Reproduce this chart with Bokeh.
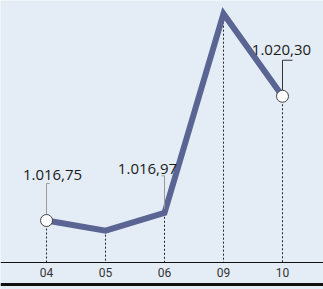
from bokeh.plotting import figure
from bokeh.models import FixedTicker, Span, Range1d
from bokeh.core.properties import value
from bokeh.embed import file_html
from bokeh.resources import INLINE

# ---- data ----
months = ["04", "05", "06", "09", "10"]
pressure = [1016.75, 1016.46, 1016.97, 1022.66, 1020.30]
labels = ["1.016,75", None, "1.016,97", None, "1.020,30"]

# ---- layout / style ----
W, H = 323, 289
BG = "#e4edf6"
LINE = "#5a6593"
y_top, y_bot = 1023.036, 1014.779
baseline = 1015.55
bottom_rule = 1014.92
px_per_unit = H / (y_top - y_bot)
x_start, x_end = -0.780, 4.695
px_per_x = W / (x_end - x_start)

xs = list(range(len(months)))

p = figure(width=W, height=H, output_backend="svg", toolbar_location=None,
           x_range=Range1d(x_start, x_end), y_range=Range1d(y_bot, y_top),
           min_border=0, min_border_left=0, min_border_right=0,
           min_border_top=0, min_border_bottom=0,
           background_fill_color=BG, border_fill_color=BG, outline_line_color=None)
p.grid.visible = False
p.yaxis.visible = False

ax = p.xaxis[0]
ax.fixed_location = baseline
ax.ticker = FixedTicker(ticks=xs)
ax.major_label_overrides = {i: m for i, m in enumerate(months)}
ax.major_tick_in = 0
ax.major_tick_out = 0
ax.minor_tick_in = 0
ax.minor_tick_out = 0
ax.axis_line_color = "#111111"
ax.axis_line_width = 1
ax.major_label_standoff = 5
ax.major_label_text_font = "Roboto"
ax.major_label_text_font_size = "12px"
ax.major_label_text_color = "#333333"

# dashed drop lines
p.segment(x0=xs, y0=pressure, x1=xs, y1=[baseline] * len(xs),
          line_color="#222222", line_width=1, line_dash="2 2")

# bottom rule
p.add_layout(Span(location=bottom_rule, dimension="width",
                  line_color="#111111", line_width=3))

# main line
p.line(xs, pressure, line_color=LINE, line_width=6, line_join="miter")

# annotations
ann_idx = [i for i, l in enumerate(labels) if l]
lead_gap = [6, 4, 6]
lead_len = [37, 37, 36]
lead_col = ["#9a9a9a", "#9a9a9a", "#333333"]
hook_dir = [1, -1, 1]
hook_px = [3, 3, 10]
txt_dx = [6, -17, -1]
txt_dy = [-46, -44, -46]

for k, i in enumerate(ann_idx):
    y0 = pressure[i] + lead_gap[k] / px_per_unit
    y1 = pressure[i] + lead_len[k] / px_per_unit
    p.segment(x0=[xs[i]], y0=[y0], x1=[xs[i]], y1=[y1],
              line_color=lead_col[k], line_width=1)
    p.segment(x0=[xs[i]], y0=[y1], x1=[xs[i] + hook_dir[k] * hook_px[k] / px_per_x],
              y1=[y1], line_color=lead_col[k], line_width=1)
    p.text(x=[xs[i]], y=[pressure[i]], text=[labels[i]],
           x_offset=txt_dx[k], y_offset=txt_dy[k],
           text_align="center", text_baseline="middle",
           text_font=value("Open Sans"), text_font_size="15px",
           text_color="#1a1a1a")

# end markers
mk = [0, len(xs) - 1]
p.scatter([xs[i] for i in mk], [pressure[i] for i in mk], size=12,
          fill_color="white", line_color="#444444", line_width=1)

open("out.html", "w").write(file_html(p, INLINE))
